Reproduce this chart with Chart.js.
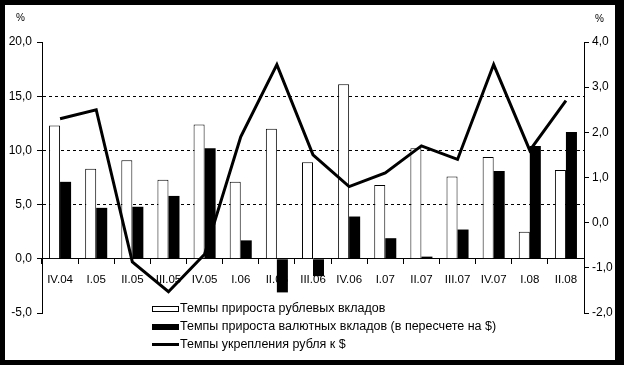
<!DOCTYPE html>
<html>
<head>
<meta charset="utf-8">
<script src="https://cdn.jsdelivr.net/npm/chart.js@4/dist/chart.umd.min.js"></script>
<style>
    html, body { margin: 0; padding: 0; background: #000; }
    #wrap { position: relative; width: 624px; height: 365px; background: #000; overflow: hidden; }
    #paper { position: absolute; left: 5px; top: 5px; width: 610px; height: 355px; background: #fff; }
    #chart { position: absolute; left: 0; top: 0; }
    .pct { position: absolute; font: 10px Arial, "Liberation Sans", sans-serif; color: #000; }
    #legend { position: absolute; left: 152px; top: 299px; font: 12.5px Arial, "Liberation Sans", sans-serif; color: #000; }
    .row { height: 18px; line-height: 18px; white-space: nowrap; }
    .sw { display: inline-block; width: 27px; height: 6px; vertical-align: middle; margin-right: 1px; box-sizing: border-box; }
</style>
</head>
<body>
<div id="wrap">
    <div id="paper"></div>
    <canvas id="chart" width="624" height="365"></canvas>
    <span class="pct" style="left:16px;top:12px;">%</span>
    <span class="pct" style="left:595px;top:13px;">%</span>
    <div id="legend"></div>
</div>
<script>
/* квартальные данные, IV.04 - II.08 */
var QUARTERS = ['IV.04', 'I.05', 'II.05', 'III.05', 'IV.05', 'I.06', 'II.06', 'III.06',
                'IV.06', 'I.07', 'II.07', 'III.07', 'IV.07', 'I.08', 'II.08'];

// темпы прироста рублевых вкладов, % (левая ось)
var RUB_DEPOSITS = [12.3, 8.3, 9.1, 7.3, 12.4, 7.1, 12.0, 8.9, 16.1, 6.8, 10.2, 7.6, 9.4, 2.5, 8.2];

// темпы прироста валютных вкладов, % (левая ось)
var FX_DEPOSITS = [7.1, 4.7, 4.8, 5.8, 10.2, 1.7, -3.1, -1.6, 3.9, 1.9, 0.2, 2.7, 8.1, 10.4, 11.7];

// темпы укрепления рубля к $, % (правая ось)
var RUB_STRENGTH = [2.3, 2.5, -0.87, -1.53, -0.7, 1.9, 3.5, 1.5, 0.8, 1.1, 1.7, 1.4, 3.5, 1.6, 2.7];

var LEFT_TICKS  = { min: -5, max: 20, step: 5 };
var RIGHT_TICKS = { min: -2, max: 4, step: 1 };
var DASHED_AT   = [5, 10, 15];

var LABELS = [
    'Темпы прироста рублевых вкладов',
    'Темпы прироста валютных вкладов (в пересчете на $)',
    'Темпы укрепления рубля к $'
];

function fmt(v) {
    return v.toFixed(1).replace('.', ',');
}

Chart.defaults.font.family = 'Arial, "Liberation Sans", sans-serif';
Chart.defaults.font.size = 12;
Chart.defaults.color = '#000';

new Chart(document.getElementById('chart'), {
    type: 'bar',
    data: {
        labels: QUARTERS,
        datasets: [
            {
                label: LABELS[0], data: RUB_DEPOSITS, yAxisID: 'y', order: 1,
                backgroundColor: '#fff', borderColor: '#000', borderWidth: 1,
                categoryPercentage: 0.61, barPercentage: 1
            },
            {
                label: LABELS[1], data: FX_DEPOSITS, yAxisID: 'y', order: 1,
                backgroundColor: '#000', borderColor: '#000', borderWidth: 0,
                categoryPercentage: 0.61, barPercentage: 1
            },
            {
                type: 'line', label: LABELS[2], data: RUB_STRENGTH, yAxisID: 'y1', order: 0,
                borderColor: '#000', borderWidth: 3, pointRadius: 0, tension: 0, fill: false
            }
        ]
    },
    options: {
        responsive: false,
        animation: false,
        layout: { padding: { top: 42, bottom: 52, left: 0, right: 0 } },
        plugins: { legend: { display: false }, tooltip: { enabled: false } },
        scales: {
            x: {
                position: { y: 0 },
                offset: true,
                grid: { drawOnChartArea: false, tickLength: 5, tickColor: '#000', offset: true },
                border: { color: '#000', width: 1 },
                ticks: { padding: 9, maxRotation: 0, autoSkip: false, font: { size: 11.5 } }
            },
            y: {
                position: 'left',
                min: LEFT_TICKS.min, max: LEFT_TICKS.max,
                afterFit: function(s) { s.width = 42; },
                grid: {
                    tickLength: 5, tickColor: '#000',
                    color: function(c) { return DASHED_AT.indexOf(c.tick.value) >= 0 ? '#000' : 'rgba(0,0,0,0)'; }
                },
                border: { color: '#000', width: 1, dash: [3, 3] },
                ticks: { stepSize: LEFT_TICKS.step, padding: 5, callback: function(v) { return fmt(v); } }
            },
            y1: {
                position: 'right',
                min: RIGHT_TICKS.min, max: RIGHT_TICKS.max,
                afterFit: function(s) { s.width = 40; },
                grid: { drawOnChartArea: false, tickLength: 5, tickColor: '#000' },
                border: { color: '#000', width: 1 },
                ticks: { stepSize: RIGHT_TICKS.step, padding: 3, callback: function(v) { return fmt(v); } }
            }
        }
    }
});

// легенда
var swatches = [
    'background:#fff;border:1px solid #000;',
    'background:#000;',
    'background:#000;height:3px;'
];
document.getElementById('legend').innerHTML = LABELS.map(function(t, i) {
    return '<div class="row"><span class="sw" style="' + swatches[i] + '"></span>' + t + '</div>';
}).join('');
</script>
</body>
</html>
